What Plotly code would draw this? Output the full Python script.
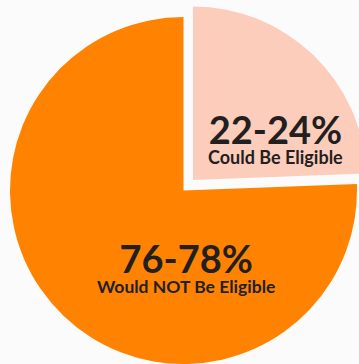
import plotly.graph_objects as go

# ---- data ----
categories = ["Could Be Eligible", "Would NOT Be Eligible"]
range_labels = ["22-24%", "76-78%"]
values = [24.4, 75.6]
colors = ["#FDCDBC", "#FF8300"]

W, H = 367, 364

def dom(x0, x1, y0, y1):
    return dict(x=[x0 / W, x1 / W], y=[1 - y1 / H, 1 - y0 / H])

fig = go.Figure()
# large (orange) slice, drawn in place
fig.add_trace(go.Pie(
    values=values, labels=categories, sort=False, direction="clockwise", rotation=0,
    marker=dict(colors=["rgba(0,0,0,0)", colors[1]], line=dict(width=0)),
    textinfo="none", hoverinfo="label+percent", showlegend=False,
    domain=dom(10, 357, 17, 364),
))
# small (peach) slice, exploded up and to the right
fig.add_trace(go.Pie(
    values=values, labels=categories, sort=False, direction="clockwise", rotation=0,
    marker=dict(colors=[colors[0], "rgba(0,0,0,0)"], line=dict(width=0)),
    textinfo="none", hoverinfo="label+percent", showlegend=False,
    domain=dom(19.5, 366.5, 6.5, 353.5),
))

font_family = "Lato, 'Open Sans', sans-serif"
txt_color = "#231F20"

def ann(big, small, px, py, big_size, small_size):
    text = (f"<b><span style='font-size:{big_size}px'>{big}</span><br>"
            f"<span style='font-size:{small_size}px'>{small}</span></b>")
    return dict(text=text, x=px / W, y=1 - py / H, xref="paper", yref="paper",
                xanchor="center", yanchor="middle", showarrow=False,
                font=dict(family=font_family, size=15, color=txt_color))

fig.update_layout(
    width=W, height=H,
    margin=dict(l=0, r=0, t=0, b=0),
    paper_bgcolor="#fbfbfb",
    annotations=[
        ann(range_labels[0], categories[0], 275, 137, 38, 18),
        ann(range_labels[1], categories[1], 186, 266, 38, 17.5),
    ],
)

fig.write_html("out.html")
